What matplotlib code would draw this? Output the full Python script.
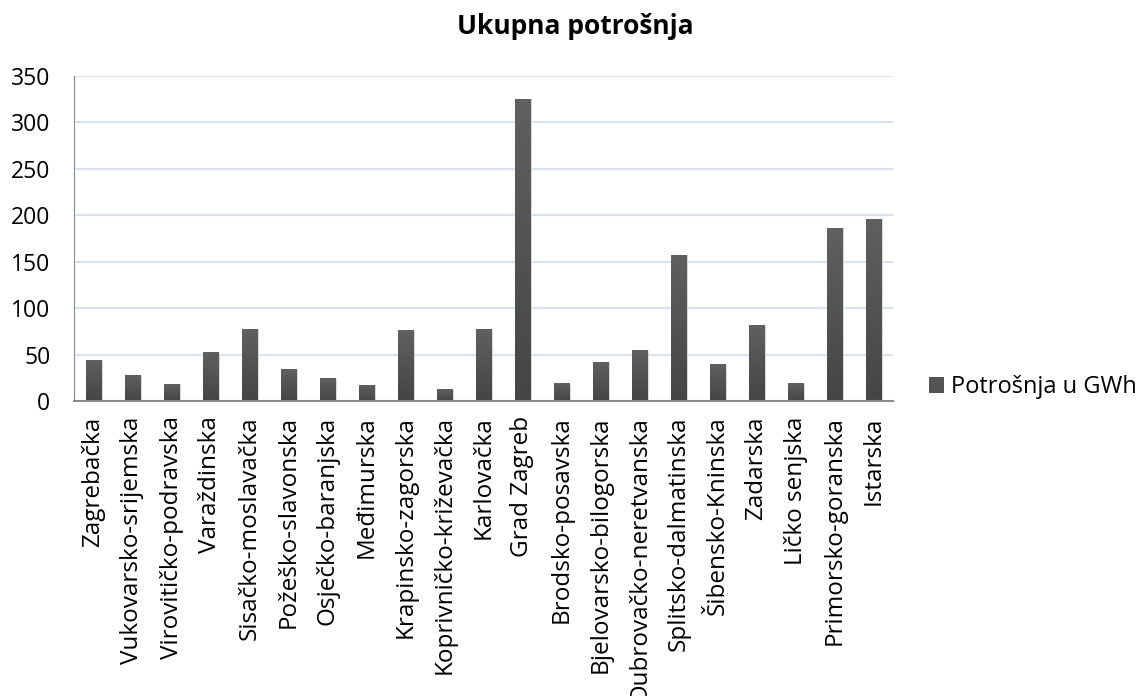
import numpy as np
import matplotlib.pyplot as plt
from matplotlib.colors import LinearSegmentedColormap

zupanije = ["Zagrebačka", "Vukovarsko-srijemska", "Virovitičko-podravska", "Varaždinska",
            "Sisačko-moslavačka", "Požeško-slavonska", "Osječko-baranjska", "Međimurska",
            "Krapinsko-zagorska", "Koprivničko-križevačka", "Karlovačka", "Grad Zagreb",
            "Brodsko-posavska", "Bjelovarsko-bilogorska", "Dubrovačko-neretvanska",
            "Splitsko-dalmatinska", "Šibensko-Kninska", "Zadarska", "Ličko senjska",
            "Primorsko-goranska", "Istarska"]
potrosnja = [44, 27, 18, 52, 77.5, 33.5, 24, 17, 75.5, 12, 76.5, 325,
             18.5, 41, 54, 157, 39, 81, 18.5, 186, 196]
yticks = [0, 50, 100, 150, 200, 250, 300, 350]

plt.rcParams['font.family'] = ['Open Sans', 'DejaVu Sans']

fig = plt.figure(figsize=(11.43, 6.96), dpi=100)
ax = fig.add_axes([74 / 1143, 1 - 401 / 696, (893 - 74) / 1143, (401 - 76) / 696])

x = np.arange(len(zupanije))
bars = ax.bar(x, potrosnja, width=0.41, color='#545454', zorder=3,
              label='Potrošnja u GWh')

# gradient fill like in excel
cmap = LinearSegmentedColormap.from_list('siva', ['#454545', '#606060'])
grad = np.linspace(0, 1, 100).reshape(-1, 1)
for b in bars:
    x0, y0 = b.get_x(), b.get_y()
    ax.imshow(grad, cmap=cmap, origin='lower', aspect='auto', zorder=4,
              extent=[x0, x0 + b.get_width(), y0, y0 + b.get_height()])
    # light shadow on the right
    ax.add_patch(plt.Rectangle((x0 + b.get_width(), 0), 0.04, b.get_height(),
                               color='#d8d8d8', zorder=2, lw=0))

ax.set_xlim(-0.5, len(zupanije) - 0.5)
ax.set_ylim(0, 350)
ax.set_yticks(yticks)
ax.set_yticklabels([str(t) for t in yticks], fontsize=16.5)
ax.set_xticks(x)
ax.set_xticklabels(zupanije, rotation=90, fontsize=17.5)
ax.tick_params(axis='x', length=0, pad=11)
ax.tick_params(axis='y', length=0, pad=17)
ax.grid(axis='y', color='#d9e2f0', lw=1.5, zorder=0)
for s in ['top', 'right']:
    ax.spines[s].set_visible(False)
ax.spines['left'].set_color('#8c8c8c')
ax.spines['bottom'].set_color('#8c8c8c')
ax.spines['bottom'].set_linewidth(1.5)
ax.spines['bottom'].set_zorder(5)

fig.text(0.503, 1 - 27 / 696, 'Ukupna potrošnja', ha='center', va='center',
         fontsize=19, fontweight='bold')

leg = ax.legend(loc='center left', bbox_to_anchor=(1.032, 0.043), frameon=False,
                fontsize=17, handlelength=0.65, handleheight=0.65, handletextpad=0.3,
                borderaxespad=0)

fig.savefig('out.png', dpi=100)
